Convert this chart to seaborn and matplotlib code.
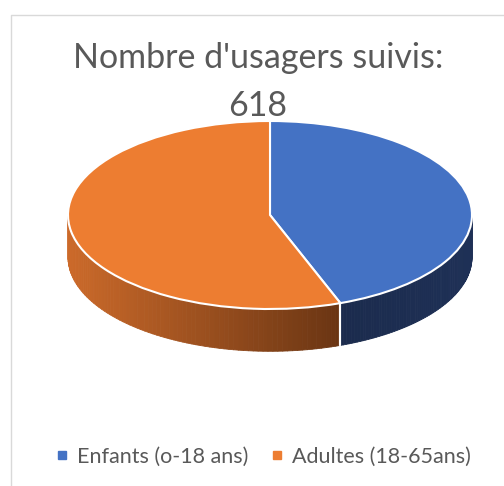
import numpy as np
import matplotlib.pyplot as plt
import matplotlib.colors as mcolors
import seaborn as sns
from matplotlib.collections import PolyCollection
from matplotlib.lines import Line2D

# données
categories = ["Enfants (o-18 ans)", "Adultes (18-65ans)"]
usagers = [274, 344]
titre = "Nombre d'usagers suivis:\n618"
top_colors = ["#4472c4", "#ed7d31"]
side_colors = [("#1b2b4d", "#1e3056"), ("#cc6a2a", "#6a3513")]

sns.set_theme(style="white")
plt.rcParams["font.family"] = ["Lato", "DejaVu Sans"]

W, H = 504, 486
fig = plt.figure(figsize=(W / 100, H / 100), dpi=100)
ax = fig.add_axes([0, 0, 1, 1])

# géométrie de l'ellipse (pixels)
cx, cy = 270, 271
rx, ry = 202, 94
depth = 0.45

wedges, _ = ax.pie(usagers, colors=top_colors, startangle=90, counterclock=False,
                   wedgeprops=dict(edgecolor="white", linewidth=1.5, zorder=3))

# flancs du camembert (partie avant seulement)
for w, (c0, c1) in zip(wedges, side_colors):
    lo, hi = max(w.theta1, -180), min(w.theta2, 0)
    if hi <= lo:
        continue
    a = np.radians(np.linspace(lo, hi, 80))
    polys, cols = [], []
    c0, c1 = np.array(mcolors.to_rgb(c0)), np.array(mcolors.to_rgb(c1))
    xmin, xmax = np.cos(a).min(), np.cos(a).max()
    for i in range(len(a) - 1):
        x0, x1 = np.cos(a[i]), np.cos(a[i + 1])
        y0, y1 = np.sin(a[i]), np.sin(a[i + 1])
        polys.append([(x0, y0), (x1, y1), (x1, y1 - depth), (x0, y0 - depth)])
        t = ((x0 + x1) / 2 - xmin) / max(xmax - xmin, 1e-9)
        cols.append(c0 + (c1 - c0) * t)
    ax.add_collection(PolyCollection(polys, facecolors=cols, edgecolors=cols,
                                     linewidths=0.6, zorder=1))

# séparation blanche sur le flanc
for w in wedges:
    for th in (w.theta1, w.theta2):
        if -180 < th < 0:
            x, y = np.cos(np.radians(th)), np.sin(np.radians(th))
            ax.plot([x, x], [y, y - depth], color="white", lw=1.5, zorder=2)

ax.set_aspect("auto")
ax.set_xlim(-cx / rx, (W - cx) / rx)
ax.set_ylim(-cy / ry, (H - cy) / ry)
ax.axis("off")

fig.text(258 / W, (H - 42) / H, titre, ha="center", va="top",
         fontsize=24.5, color="#595959", linespacing=1.6)

handles = [Line2D([], [], marker="s", ls="", color=c, markersize=6) for c in top_colors]
fig.legend(handles, categories, loc="center", bbox_to_anchor=(0.522, (H - 457) / H),
           ncol=2, frameon=False, fontsize=15.5, labelcolor="#595959",
           handletextpad=0.4, columnspacing=1.0, handlelength=0.6)

# cadre du graphique
fig.add_artist(Line2D([10.5 / W, 10.5 / W, 1], [0, (H - 15.5) / H, (H - 15.5) / H],
                      transform=fig.transFigure, color="#d9d9d9", lw=1))

fig.savefig("out.png", dpi=100)
